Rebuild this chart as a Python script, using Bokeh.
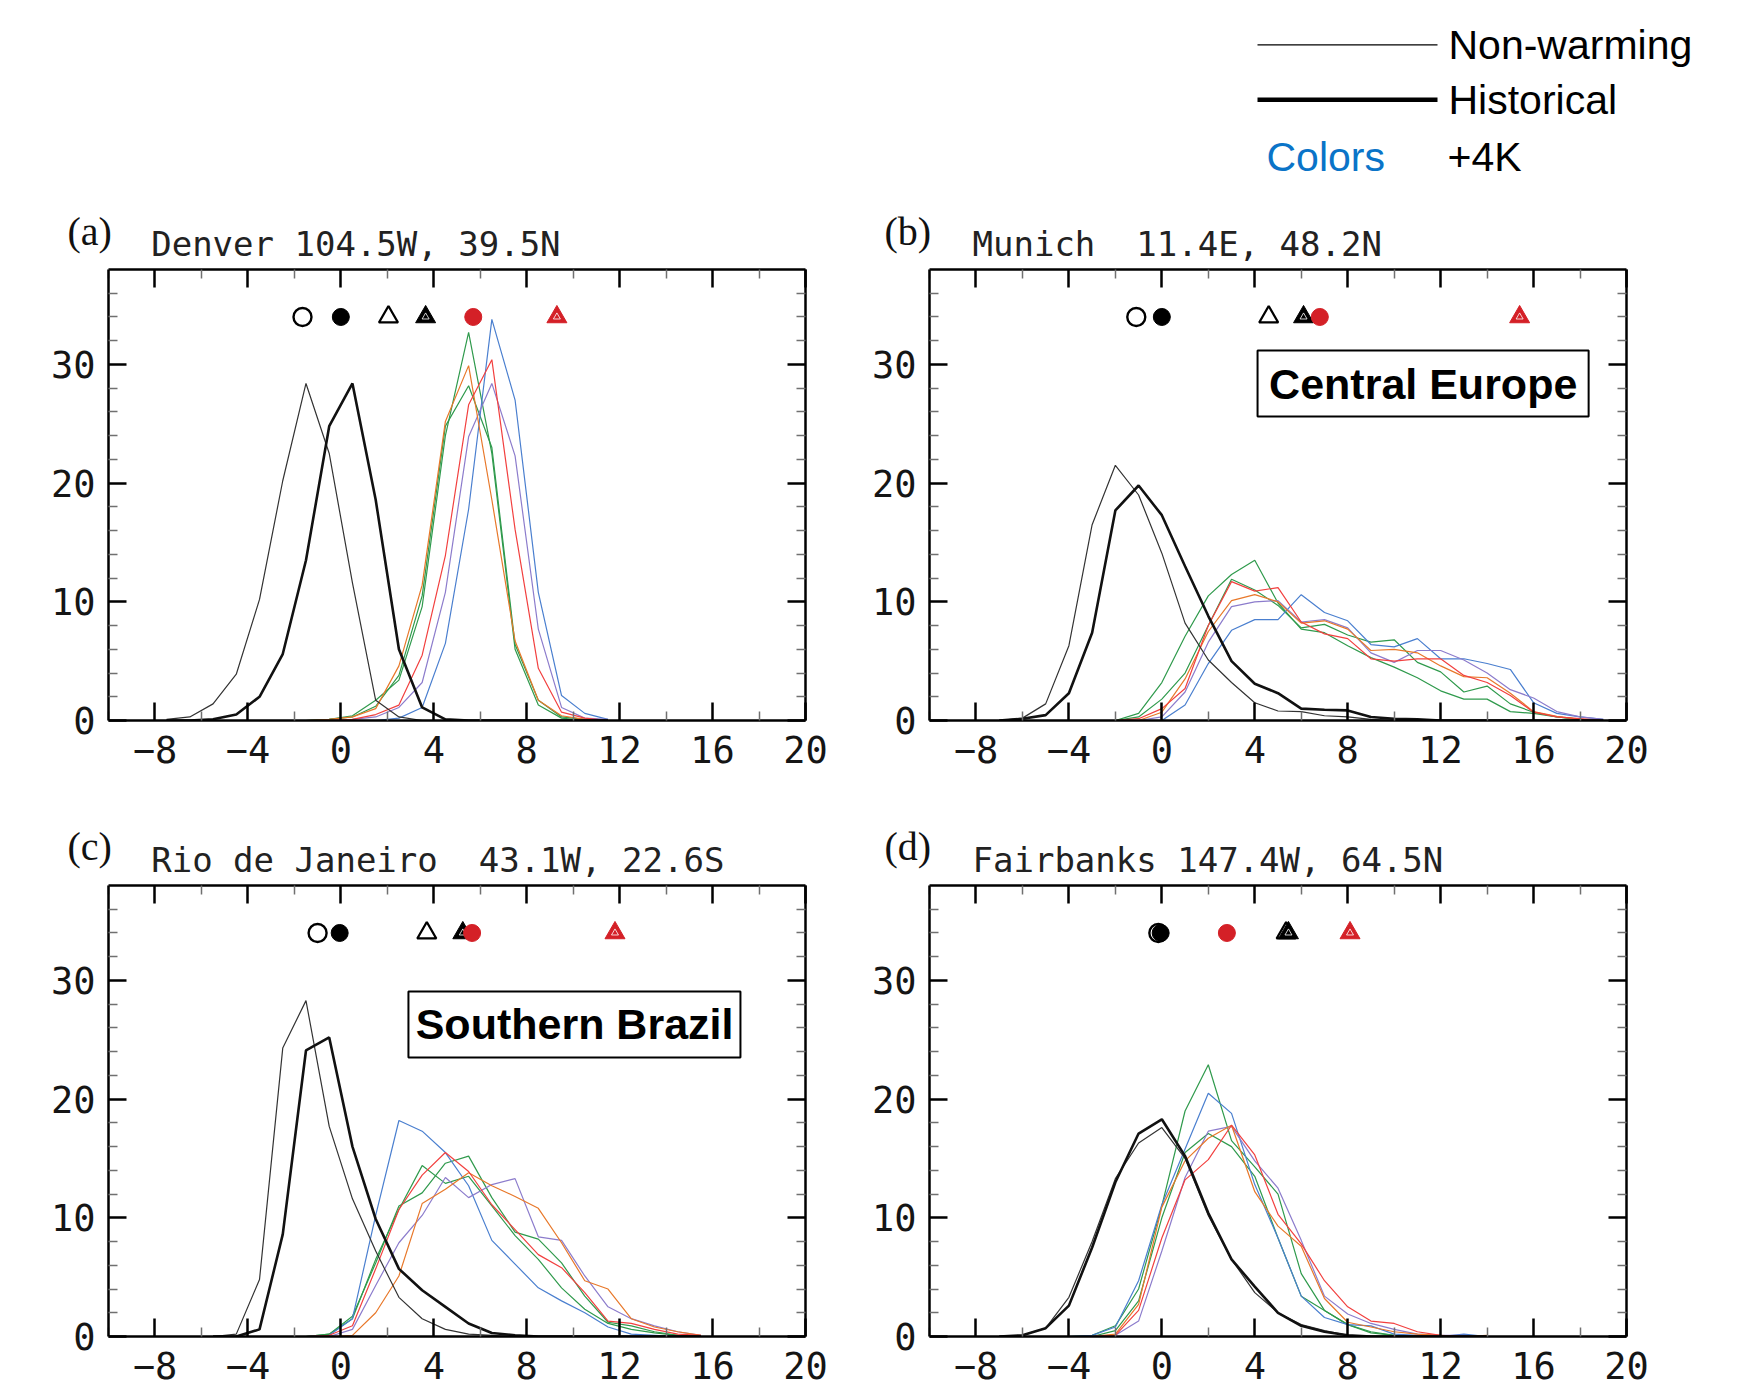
from bokeh.plotting import figure
from bokeh.models import Range1d, LinearAxis, FixedTicker, Label, BoxAnnotation
from bokeh.layouts import column, row
from bokeh.embed import file_html
from bokeh.resources import INLINE
from bokeh.core.properties import value

# ---------------- data ----------------
XMAJOR = [-8, -4, 0, 4, 8, 12, 16, 20]
XLABELS = ["\u22128", "\u22124", "0", "4", "8", "12", "16", "20"]
XMINOR = [-10, -6, -2, 2, 6, 10, 14, 18]
YMAJOR = [0, 10, 20, 30]
YLABELS = ["0", "10", "20", "30"]
YMINOR = [2, 4, 6, 8, 12, 14, 16, 18, 22, 24, 26, 28, 32, 34, 36]

# (a) Denver
A_X = [-7.5, -6.5, -5.5, -4.5, -3.5, -2.5, -1.5, -0.5, 0.5, 1.5, 2.5, 3.5, 4.5, 5.5, 6.5, 7.5, 8.5, 9.5, 10.5, 11.5]
A_NONWARM = [0.1, 0.3, 1.4, 3.9, 10.2, 20.2, 28.4, 22.5, 11.6, 1.7, 0.3, 0, 0, 0, 0, 0, 0, 0, 0, 0]
A_HIST = [0, 0, 0.1, 0.5, 2.0, 5.6, 13.5, 24.8, 28.4, 18.6, 6.0, 1.1, 0.1, 0, 0, 0, 0, 0, 0, 0]
A_BLUE = [0, 0, 0, 0, 0, 0, 0, 0, 0, 0, 0.2, 1.1, 6.5, 17.8, 33.8, 27.0, 10.8, 2.1, 0.6, 0.1]
A_GREEN1 = [0, 0, 0, 0, 0, 0, 0, 0.1, 0.4, 1.7, 3.4, 9.6, 24.0, 32.7, 22.5, 6.0, 1.3, 0.2, 0, 0]
A_GREEN2 = [0, 0, 0, 0, 0, 0, 0, 0.1, 0.3, 1.2, 3.8, 10.5, 24.8, 28.2, 23.0, 6.4, 1.7, 0.3, 0.1, 0]
A_ORANGE = [0, 0, 0, 0, 0, 0, 0, 0.1, 0.3, 1.0, 4.6, 11.4, 25.2, 29.9, 18.6, 6.7, 1.7, 0.4, 0.1, 0]
A_RED = [0, 0, 0, 0, 0, 0, 0, 0, 0.1, 0.5, 1.3, 5.5, 13.9, 26.6, 30.4, 16.1, 4.4, 0.7, 0.2, 0]
A_PURPLE = [0, 0, 0, 0, 0, 0, 0, 0, 0.1, 0.3, 1.1, 3.2, 10.8, 23.9, 28.4, 22.3, 7.7, 1.1, 0.2, 0.1]
A_MARKS = [-1.65, 0.0, 2.05, 3.65, 5.7, 9.3]

# (b) Munich
B_X = [-7, -6, -5, -4, -3, -2, -1, 0, 1, 2, 3, 4, 5, 6, 7, 8, 9, 10, 11, 12, 13, 14, 15, 16, 17, 18, 19]
B_NONWARM = [0, 0.2, 1.4, 6.3, 16.5, 21.5, 19.0, 14.1, 8.2, 5.1, 3.2, 1.5, 0.8, 0.75, 0.4, 0.3, 0.1, 0, 0, 0, 0, 0, 0, 0, 0, 0, 0]
B_HIST = [0, 0.15, 0.45, 2.3, 7.4, 17.7, 19.8, 17.3, 13.0, 8.8, 5.0, 3.1, 2.3, 1.0, 0.9, 0.85, 0.3, 0.15, 0.1, 0, 0, 0, 0, 0, 0, 0, 0]
B_BLUE = [0, 0, 0, 0, 0, 0, 0, 0, 1.3, 4.8, 7.6, 8.5, 8.5, 10.6, 9.1, 8.4, 6.4, 6.2, 6.9, 5.2, 5.2, 4.8, 4.3, 1.5, 0.6, 0.3, 0.1]
B_GREEN1 = [0, 0, 0, 0, 0, 0, 0.6, 3.2, 7.1, 10.5, 12.3, 13.5, 9.9, 7.7, 7.4, 6.3, 5.3, 4.5, 3.6, 2.5, 1.8, 1.8, 0.75, 0.6, 0.3, 0.1, 0]
B_GREEN2 = [0, 0, 0, 0, 0, 0, 0.3, 1.8, 4.0, 8.0, 11.9, 11.0, 9.7, 7.8, 8.1, 7.2, 6.6, 6.8, 4.9, 4.1, 2.4, 2.9, 1.4, 0.7, 0.3, 0.1, 0]
B_ORANGE = [0, 0, 0, 0, 0, 0, 0, 0.7, 3.5, 7.5, 10.1, 10.6, 10.0, 8.2, 8.4, 7.7, 5.9, 6.0, 5.7, 4.6, 3.7, 3.6, 2.3, 0.75, 0.35, 0.1, 0]
B_RED = [0, 0, 0, 0, 0, 0, 0.15, 1.0, 2.7, 8.0, 11.7, 10.9, 11.2, 8.3, 7.3, 6.9, 5.2, 5.0, 5.2, 5.2, 3.8, 3.2, 2.1, 0.7, 0.3, 0.15, 0]
B_PURPLE = [0, 0, 0, 0, 0, 0, 0, 0.3, 2.4, 6.6, 9.6, 10.0, 10.1, 8.3, 8.5, 7.8, 5.7, 4.9, 5.9, 5.9, 5.1, 4.0, 2.6, 1.9, 0.75, 0.3, 0.1]
B_MARKS = [-1.1, 0.0, 4.6, 6.1, 6.8, 15.4]

# (c) Rio de Janeiro
C_X = [-5.5, -4.5, -3.5, -2.5, -1.5, -0.5, 0.5, 1.5, 2.5, 3.5, 4.5, 5.5, 6.5, 7.5, 8.5, 9.5, 10.5, 11.5, 12.5, 13.5, 14.5, 15.5]
C_NONWARM = [0, 0.2, 4.8, 24.3, 28.3, 17.7, 11.6, 7.2, 3.3, 1.5, 0.6, 0.2, 0.1, 0, 0, 0, 0, 0, 0, 0, 0, 0]
C_HIST = [0, 0, 0.6, 8.6, 24.1, 25.2, 16.0, 9.9, 5.7, 3.9, 2.5, 1.1, 0.3, 0.1, 0, 0, 0, 0, 0, 0, 0, 0]
C_BLUE = [0, 0, 0, 0, 0, 0.1, 1.5, 10.2, 18.2, 17.3, 15.5, 12.7, 8.1, 6.1, 4.1, 3.0, 2.0, 0.8, 0.2, 0.1, 0, 0]
C_GREEN1 = [0, 0, 0, 0, 0, 0.2, 1.7, 6.2, 11.0, 12.1, 14.6, 15.2, 11.7, 8.8, 8.2, 6.2, 3.4, 1.2, 0.9, 0.4, 0.1, 0]
C_GREEN2 = [0, 0, 0, 0, 0, 0.2, 1.5, 6.5, 10.7, 14.4, 12.9, 13.5, 11.0, 8.5, 6.5, 4.1, 2.3, 1.1, 0.6, 0.3, 0.1, 0]
C_ORANGE = [0, 0, 0, 0, 0, 0, 0.1, 2.0, 5.1, 11.2, 12.4, 13.8, 12.7, 11.8, 10.8, 7.9, 4.7, 4.0, 1.5, 0.8, 0.4, 0.1]
C_RED = [0, 0, 0, 0, 0, 0.1, 0.9, 5.7, 10.7, 13.6, 15.5, 13.9, 11.1, 9.0, 6.9, 5.8, 3.7, 1.3, 1.1, 0.6, 0.2, 0.1]
C_PURPLE = [0, 0, 0, 0, 0, 0, 0.6, 4.3, 7.9, 10.2, 13.4, 11.7, 12.8, 13.3, 8.4, 8.1, 5.1, 2.5, 1.5, 0.9, 0.4, 0.1]
C_MARKS = [-1.0, -0.05, 3.7, 5.25, 5.65, 11.8]

# (d) Fairbanks
D_X = [-7, -6, -5, -4, -3, -2, -1, 0, 1, 2, 3, 4, 5, 6, 7, 8, 9, 10, 11, 12, 13, 14]
D_NONWARM = [0, 0.1, 0.7, 3.3, 8.0, 13.3, 16.3, 17.6, 15.0, 10.2, 6.5, 3.7, 2.0, 1.0, 0.5, 0.1, 0, 0, 0, 0, 0, 0]
D_HIST = [0, 0.1, 0.7, 2.6, 7.5, 13.0, 17.1, 18.3, 15.2, 10.4, 6.5, 4.2, 2.0, 0.9, 0.4, 0.1, 0, 0, 0, 0, 0, 0]
D_BLUE = [0, 0, 0, 0, 0.1, 0.8, 4.7, 11.1, 15.8, 20.5, 18.8, 12.8, 8.3, 3.4, 1.6, 1.0, 0.9, 0.2, 0.1, 0, 0.2, 0]
D_GREEN1 = [0, 0, 0, 0, 0.1, 0.9, 4.0, 11.0, 19.0, 22.9, 16.5, 14.3, 12.0, 5.3, 2.2, 1.0, 0.3, 0.1, 0, 0, 0, 0]
D_GREEN2 = [0, 0, 0, 0, 0, 0.5, 3.0, 10.0, 15.5, 17.1, 16.0, 13.5, 8.3, 3.4, 2.2, 1.0, 0.4, 0.1, 0, 0, 0, 0]
D_ORANGE = [0, 0, 0, 0, 0, 0.2, 2.7, 10.9, 14.8, 16.7, 17.8, 12.2, 9.3, 7.6, 3.2, 1.2, 0.8, 0.4, 0.2, 0.1, 0, 0.1]
D_RED = [0, 0, 0, 0, 0, 0.1, 2.2, 8.3, 13.2, 14.9, 17.8, 15.3, 10.3, 7.8, 4.7, 2.5, 1.3, 1.1, 0.4, 0.1, 0, 0]
D_PURPLE = [0, 0, 0, 0, 0, 0.1, 1.3, 7.2, 13.4, 17.3, 17.7, 14.8, 12.5, 8.1, 3.4, 1.9, 1.1, 0.6, 0.2, 0.1, 0.1, 0]
D_MARKS = [-0.15, -0.05, 5.35, 5.45, 2.8, 8.1]

MARK_Y = 34

LETTERS = ["(a)", "(b)", "(c)", "(d)"]
TITLES = ["Denver 104.5W, 39.5N",
          "Munich\u00a0 11.4E, 48.2N",
          "Rio de Janeiro\u00a0 43.1W, 22.6S",
          "Fairbanks 147.4W, 64.5N"]
LEGEND_LABELS = ["Non-warming", "Historical", "+4K"]

# ---------------- style ----------------
COL_BLUE = "#4a7fcf"
COL_GREEN = "#2f9a4c"
COL_ORANGE = "#e8782a"
COL_RED = "#f2403f"
COL_PURPLE = "#8c7ccc"
MARK_RED = "#d42027"
TICK_FONT = "DejaVu Sans Mono"

FW, FH = 697, 451
PAGE_W = 1720


def style_axis(ax, ticks, minors, labels, show_labels, standoff):
    ax.ticker = FixedTicker(ticks=ticks, minor_ticks=minors)
    ax.axis_line_width = 2.5
    ax.axis_line_color = "black"
    ax.major_tick_in = 18
    ax.major_tick_out = 0
    ax.major_tick_line_width = 2.5
    ax.major_tick_line_color = "black"
    ax.minor_tick_in = 9
    ax.minor_tick_out = 0
    ax.minor_tick_line_width = 1.5
    ax.minor_tick_line_color = "#707070"
    if show_labels:
        ax.major_label_overrides = {t: l for t, l in zip(ticks, labels)}
        ax.major_label_text_font = TICK_FONT
        ax.major_label_text_font_size = "37px"
        ax.major_label_text_color = "#151515"
        ax.major_label_standoff = standoff
    else:
        ax.major_label_text_font_size = "1px"
        ax.major_label_text_color = None
        ax.major_label_text_alpha = 0
        ax.major_label_standoff = 0


def panel(xs, nonwarm, hist, colored, marks, border_left, border_right, border_bottom):
    p = figure(frame_width=FW, frame_height=FH,
               x_range=Range1d(-10, 20), y_range=Range1d(0, 38),
               output_backend="svg", toolbar_location=None,
               min_border_left=border_left, min_border_right=border_right,
               min_border_top=4, min_border_bottom=border_bottom)
    p.xgrid.visible = False
    p.ygrid.visible = False
    p.outline_line_color = None
    p.background_fill_color = "white"
    p.border_fill_color = "white"

    style_axis(p.xaxis[0], XMAJOR, XMINOR, XLABELS, True, 15)
    style_axis(p.yaxis[0], YMAJOR, YMINOR, YLABELS, True, 13)
    top = LinearAxis()
    style_axis(top, XMAJOR, XMINOR, XLABELS, False, 0)
    p.add_layout(top, "above")
    right = LinearAxis()
    style_axis(right, YMAJOR, YMINOR, YLABELS, False, 0)
    p.add_layout(right, "right")

    for ys, c in colored:
        p.line(xs, ys, line_color=c, line_width=1.2)
    p.line(xs, nonwarm, line_color="#333333", line_width=1.2)
    p.line(xs, hist, line_color="#111111", line_width=2.6)

    # mean markers
    p.scatter([marks[0]], [MARK_Y], marker="circle", size=18, fill_color="white",
              line_color="black", line_width=2.4)
    p.scatter([marks[1]], [MARK_Y], marker="circle", size=17, fill_color="black",
              line_color="black", line_width=1)
    p.scatter([marks[2]], [MARK_Y], marker="triangle", size=19, fill_color="white",
              line_color="black", line_width=2.3)
    p.scatter([marks[3]], [MARK_Y], marker="triangle", size=20, fill_color="black",
              line_color="black", line_width=1)
    p.scatter([marks[3]], [MARK_Y], marker="triangle", size=7, fill_color=None,
              line_color="white", line_width=0.8)
    p.scatter([marks[4]], [MARK_Y], marker="circle", size=17, fill_color=MARK_RED,
              line_color=MARK_RED, line_width=1)
    p.scatter([marks[5]], [MARK_Y], marker="triangle", size=20, fill_color=MARK_RED,
              line_color=MARK_RED, line_width=1)
    p.scatter([marks[5]], [MARK_Y], marker="triangle", size=7, fill_color=None,
              line_color="white", line_width=0.8)
    return p


def colored_set(blue, green1, green2, orange, red, purple):
    return [(green1, COL_GREEN), (green2, COL_GREEN), (blue, COL_BLUE),
            (purple, COL_PURPLE), (orange, COL_ORANGE), (red, COL_RED)]


def header(height):
    h = figure(frame_width=PAGE_W, frame_height=height,
               x_range=Range1d(0, PAGE_W), y_range=Range1d(height, 0),
               output_backend="svg", toolbar_location=None,
               x_axis_location=None, y_axis_location=None,
               min_border_left=0, min_border_right=0, min_border_top=0, min_border_bottom=0)
    h.xgrid.visible = False
    h.ygrid.visible = False
    h.outline_line_color = None
    return h


def panel_titles(h, letters, titles, y_letter, y_title):
    h.text(x=[67, 884], y=[y_letter, y_letter], text=letters,
           text_font=value("Liberation Serif"), text_font_size="40px",
           text_color="#111111", text_baseline="middle", text_align="left")
    h.text(x=[150.7, 972], y=[y_title, y_title], text=titles,
           text_font=value(TICK_FONT), text_font_size="34px",
           text_color="#222222", text_baseline="middle", text_align="left")


pa = panel(A_X, A_NONWARM, A_HIST,
           colored_set(A_BLUE, A_GREEN1, A_GREEN2, A_ORANGE, A_RED, A_PURPLE),
           A_MARKS, 108, 24, 60)
pb = panel(B_X, B_NONWARM, B_HIST,
           colored_set(B_BLUE, B_GREEN1, B_GREEN2, B_ORANGE, B_RED, B_PURPLE),
           B_MARKS, 100, 30, 60)
pc = panel(C_X, C_NONWARM, C_HIST,
           colored_set(C_BLUE, C_GREEN1, C_GREEN2, C_ORANGE, C_RED, C_PURPLE),
           C_MARKS, 108, 24, 56)
pd = panel(D_X, D_NONWARM, D_HIST,
           colored_set(D_BLUE, D_GREEN1, D_GREEN2, D_ORANGE, D_RED, D_PURPLE),
           D_MARKS, 100, 30, 56)

# region boxes
pb.add_layout(BoxAnnotation(left=4.12, right=18.37, bottom=25.61, top=31.18,
                            fill_color="white", fill_alpha=1.0,
                            line_color="black", line_alpha=1.0, line_width=2))
pb.add_layout(Label(x=11.25, y=28.35, text="Central Europe", text_font="Liberation Sans",
                    text_font_style="bold", text_font_size="43px", text_color="black",
                    text_align="center", text_baseline="middle"))
pc.add_layout(BoxAnnotation(left=2.91, right=17.20, bottom=23.51, top=29.07,
                            fill_color="white", fill_alpha=1.0,
                            line_color="black", line_alpha=1.0, line_width=2))
pc.add_layout(Label(x=10.06, y=26.29, text="Southern Brazil", text_font="Liberation Sans",
                    text_font_style="bold", text_font_size="43px", text_color="black",
                    text_align="center", text_baseline="middle"))

# ---------------- header 1: legend + titles (a), (b) ----------------
h1 = header(265)
h1.segment(x0=[1257], y0=[44.3], x1=[1437], y1=[44.3], line_color="black", line_width=1.3)
h1.segment(x0=[1257], y0=[99.3], x1=[1437], y1=[99.3], line_color="black", line_width=4.5)
h1.text(x=[1448, 1448, 1447], y=[44.5, 99.5, 156], text=LEGEND_LABELS,
        text_font=value("Liberation Sans"), text_font_size="41px", text_color="black",
        text_baseline="middle", text_align="left")
h1.text(x=[1266], y=[156], text=["Colors"], text_font=value("Liberation Sans"),
        text_font_size="41px", text_color="#0a74c8", text_baseline="middle",
        text_align="left")
panel_titles(h1, LETTERS[0:2], TITLES[0:2], 231, 243)

# ---------------- header 2: titles (c), (d) ----------------
h2 = header(101)
panel_titles(h2, LETTERS[2:4], TITLES[2:4], 66, 79)

layout = column(h1, row(pa, pb), h2, row(pc, pd))

with open("out.html", "w") as f:
    f.write(file_html(layout, INLINE))
